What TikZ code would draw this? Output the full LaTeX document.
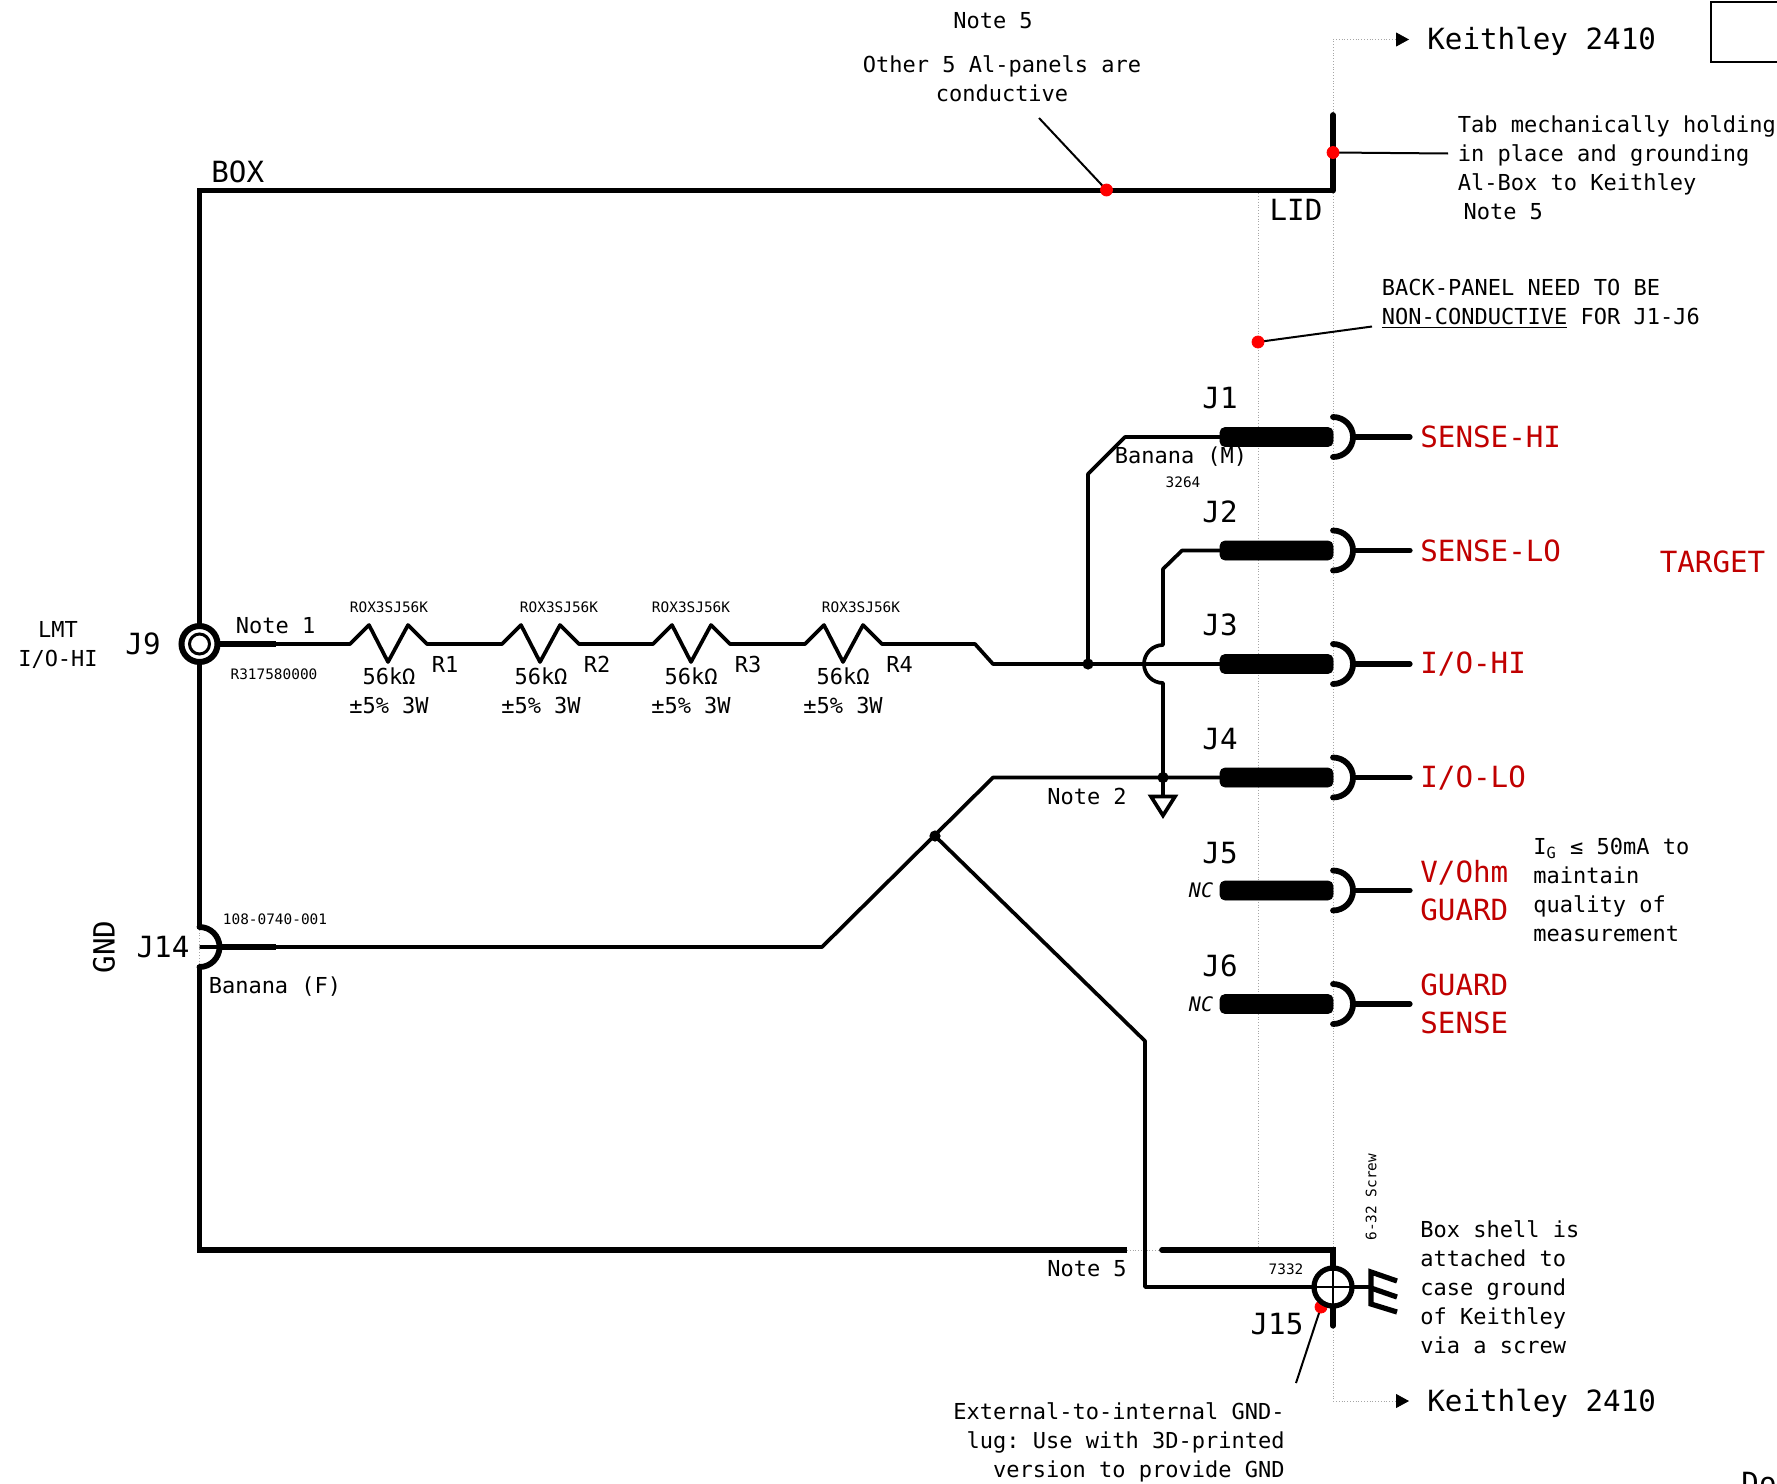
\documentclass[tikz,border=0pt]{standalone}
\usepackage{fontspec}
\setmonofont{DejaVu Sans Mono}
\usetikzlibrary{arrows.meta}

\begin{document}
\begin{tikzpicture}[x=0.5pt, y=-0.5pt,
        wire/.style={line width=1.85pt, line join=round},
        shell/.style={line width=2.9pt, line join=miter},
        lead/.style={line width=2.6pt, line cap=round},
        sock/.style={line width=2.9pt, line cap=round},
        guide/.style={gray!70, line width=0.4pt, densely dotted},
        leader/.style={line width=1pt},
        reddot/.style={red, fill=red},
        plug/.style={fill=black, rounded corners=2.5pt},
        note/.style={font=\ttfamily\fontsize{11}{14.5}\selectfont, inner sep=0pt, align=left},
        label/.style={font=\ttfamily\fontsize{14.6}{19}\selectfont, inner sep=0pt, align=left},
        tiny/.style={font=\ttfamily\fontsize{7.2}{9}\selectfont, inner sep=0pt},
        signal/.style={label, text=sigred}]
        \definecolor{sigred}{HTML}{C00000}
        \useasboundingbox (0,0) rectangle (1777,1483);
        \clip (0,0) rectangle (1777,1483);

        \coordinate (TL) at (199.5,190.5);
        \coordinate (TR) at (1333,190.5);
        \coordinate (Tab) at (1333,115);
        \coordinate (BL) at (199.5,1250);
        \coordinate (BR) at (1333,1250);
        \coordinate (GapL) at (1127,1250);
        \coordinate (GapR) at (1162,1250);
        \coordinate (J9) at (199.5,644);
        \coordinate (J14) at (199.5,947);
        \coordinate (J14t) at (199.5,927);
        \coordinate (J14b) at (199.5,967);
        \coordinate (J15) at (1333,1287);
        \coordinate (Stem) at (1333,1326);

        \coordinate (J1) at (1333,437);
        \coordinate (J2) at (1333,550.5);
        \coordinate (J3) at (1333,664);
        \coordinate (J4) at (1333,777.5);
        \coordinate (J5) at (1333,890.5);
        \coordinate (J6) at (1333,1004);

        \coordinate (N1) at (1088,664);
        \coordinate (N2) at (1163,777.5);
        \coordinate (N3) at (935,836);

        % dotted panel lines
        \coordinate (KeiT) at (1409,39.5);
        \coordinate (KeiB) at (1409,1401);
        \draw[guide, -{Triangle[length=6.5pt,width=7pt,black]}] (TR) -- (1333,39.5) -- (KeiT);
        \draw[guide, -{Triangle[length=6.5pt,width=7pt,black]}] (BR) -- (1333,1401) -- (KeiB);
        \draw[guide] (TR) -- (BR);
        \draw[guide] (1258,190.5) -- (1258,1250);
        \draw[guide] (GapL) -- (GapR);
        \draw[guide] (J14t) -- (J14b);

        % red marks
        \coordinate (DotA) at (1106.5,190);
        \coordinate (DotB) at (1333,152.5);
        \coordinate (DotC) at (1258,342);
        \coordinate (DotD) at (1321,1307);
        \coordinate (LeadA) at (1039,118);
        \coordinate (LeadB) at (1448,153.5);
        \coordinate (LeadC) at (1372,326.5);
        \coordinate (LeadD) at (1296,1383);
        \draw[leader] (DotA) -- (LeadA);
        \draw[leader] (DotB) -- (LeadB);
        \draw[leader] (DotC) -- (LeadC);
        \draw[leader] (DotD) -- (LeadD);

        % shell of the box
        \draw[shell] (J14t) -- (TL) -- (TR);
        \draw[shell, line cap=round] (TR) -- (Tab);
        \draw[shell] (J14b) -- (BL) -- (GapL);
        \draw[shell, line cap=round] (GapR) -- (BR) -- (J15);
        \draw[sock] (J14t) arc[start angle=90, end angle=-90, radius=10pt];
        \draw[reddot] (DotA) circle[radius=3pt];
        \draw[reddot] (DotB) circle[radius=3pt];
        \draw[reddot] (DotC) circle[radius=3pt];
        \draw[reddot] (DotD) circle[radius=3pt];

        % resistor string
        \draw[wire] (J9) -- (350,644) -- (369,625) -- (388,662) -- (408,625) -- (427,644)
                -- (502,644) -- (521,625) -- (540,662) -- (560,625) -- (579,644)
                -- (653,644) -- (672,625) -- (691,662) -- (711,625) -- (730,644)
                -- (805,644) -- (824,625) -- (843,662) -- (863,625) -- (882,644)
                -- (975,644) -- (993,664) -- (J3);
        \draw[lead, line cap=butt] (J9) -- (276,644);

        % J1 to J4 wires
        \draw[wire] (N1) -- (1088,474) -- (1125,437) -- (J1);
        \draw[wire] (J2) -- (1182,550.5) -- (1163,569) -- (1163,645)
                arc[start angle=90, end angle=270, radius=9.5pt] -- (N2);
        \draw[wire] (J4) -- (993,777.5) -- (822,947) -- (J14);
        \draw[lead, line cap=butt] (220,947) -- (276,947);
        \draw[wire] (N3) -- (1145,1041) -- (1145,1287) -- (J15);
        \draw[wire] (N2) -- (1163,796);
        \draw[line width=1.85pt, line join=miter] (1151,796.5) -- (1175,796.5) -- (1163,815.5) -- cycle;
        \fill (N1) circle[radius=2.8pt];
        \fill (N2) circle[radius=2.8pt];
        \fill (N3) circle[radius=2.8pt];

        % J1 to J6 jacks
        \draw[plug] (1220,427.5) rectangle (1333,446.5);
        \draw[plug] (1220,541) rectangle (1333,560);
        \draw[plug] (1220,654.5) rectangle (1333,673.5);
        \draw[plug] (1220,768) rectangle (1333,787);
        \draw[plug] (1220,881) rectangle (1333,900);
        \draw[plug] (1220,994.5) rectangle (1333,1013.5);
        \draw[sock] (1333,417) arc[start angle=90, end angle=-90, radius=10pt];
        \draw[sock] (1333,530.5) arc[start angle=90, end angle=-90, radius=10pt];
        \draw[sock] (1333,644) arc[start angle=90, end angle=-90, radius=10pt];
        \draw[sock] (1333,757.5) arc[start angle=90, end angle=-90, radius=10pt];
        \draw[sock] (1333,870.5) arc[start angle=90, end angle=-90, radius=10pt];
        \draw[sock] (1333,984) arc[start angle=90, end angle=-90, radius=10pt];
        \draw[lead] (1354,437) -- (1410,437);
        \draw[lead] (1354,550.5) -- (1410,550.5);
        \draw[lead] (1354,664) -- (1410,664);
        \draw[lead] (1354,777.5) -- (1410,777.5);
        \draw[lead] (1354,890.5) -- (1410,890.5);
        \draw[lead] (1354,1004) -- (1410,1004);

        % J9 and J15
        \draw[line width=3pt, fill=white] (J9) circle[radius=9pt];
        \draw[line width=1.5pt] (J9) circle[radius=5pt];
        \draw[line width=2.6pt, fill=white] (J15) circle[radius=9.5pt];
        \draw[leader, line width=0.8pt] (1333,1268) -- (1333,1306);
        \draw[leader, line width=0.8pt] (1314,1287) -- (1352,1287);
        \draw[lead] (1333,1308) -- (Stem);
        \draw[wire] (1354,1287) -- (1371,1287);
        \draw[lead, line cap=butt, line join=miter] (1397,1281) -- (1371,1272) -- (1371,1304) -- (1397,1312);
        \draw[lead, line cap=butt] (1371,1288) -- (1397,1297);

        \draw[line width=1pt] (1777,2) -- (1711,2) -- (1711,62) -- (1777,62);

        % texts
        \node[note] (n5a) at (993,21) {Note 5};
        \node[note, align=center] (al) at (1002,79) {Other 5 Al-panels are\\conductive};
        \node[label, anchor=west] (box) at (211,172) {BOX};
        \node[label] (lid) at (1296,210) {LID};
        \node[label, anchor=west] (kt) at (1427,41.5) {Keithley 2410};
        \node[label, anchor=west] (kb) at (1427,1403.5) {Keithley 2410};
        \node[note, anchor=west] (tabt) at (1457.5,168) {Tab mechanically holding\\in place and grounding\\Al-Box to Keithley\\\hspace{2.8pt}Note 5};
        \node[note, anchor=west] (back) at (1381.5,303.5) {BACK-PANEL NEED TO BE\\\underline{NON-CONDUCTIVE} FOR J1-J6};

        \node[label] (j1) at (1220,398) {J1};
        \node[label] (j2) at (1220,512) {J2};
        \node[label] (j3) at (1220,625) {J3};
        \node[label] (j4) at (1220,739) {J4};
        \node[label] (j5) at (1220,853) {J5};
        \node[label] (j6) at (1220,966) {J6};
        \node[note] (bm) at (1181,457) {Banana (M)};
        \node[tiny] (p3264) at (1183,482) {3264};
        \node[note, font=\ttfamily\itshape\fontsize{10}{12}\selectfont] (nc5) at (1201,890) {NC};
        \node[note, font=\ttfamily\itshape\fontsize{10}{12}\selectfont] (nc6) at (1201,1004) {NC};

        \node[signal, anchor=west] (s1) at (1420,437) {SENSE-HI};
        \node[signal, anchor=west] (s2) at (1420,551) {SENSE-LO};
        \node[signal, anchor=west] (s3) at (1420,664) {I/O-HI};
        \node[signal, anchor=west] (s4) at (1420,778) {I/O-LO};
        \node[signal, anchor=west] (s5) at (1420,891) {V/Ohm\\GUARD};
        \node[signal, anchor=west] (s6) at (1420,1004) {GUARD\\SENSE};
        \node[signal] (tgt) at (1712.5,562) {TARGET};
        \node[note, anchor=west] (ig) at (1533,890) {I\textsubscript{G} ≤ 50mA to\\maintain\\quality of\\measurement};

        \node[note, align=center] (lmt) at (58,645) {LMT\\I/O-HI};
        \node[label] (j9) at (143,644) {J9};
        \node[note, anchor=west] (n1) at (235.5,626) {Note 1};
        \node[tiny] (r3) at (274,674) {R317580000};
        \node[label] (j14) at (163,947) {J14};
        \node[label, rotate=90] (gnd) at (104,947) {GND};
        \node[tiny] (p108) at (275,919) {108-0740-001};
        \node[note] (bf) at (275,986.5) {Banana (F)};

        \node[tiny] (rox1) at (389,607) {ROX3SJ56K};
        \node[tiny] (rox2) at (559,607) {ROX3SJ56K};
        \node[tiny] (rox3) at (691,607) {ROX3SJ56K};
        \node[tiny] (rox4) at (861,607) {ROX3SJ56K};
        \node[note, align=center] (v1) at (389,691) {56kΩ\\±5\% 3W};
        \node[note, align=center] (v2) at (541,691) {56kΩ\\±5\% 3W};
        \node[note, align=center] (v3) at (691,691) {56kΩ\\±5\% 3W};
        \node[note, align=center] (v4) at (843,691) {56kΩ\\±5\% 3W};
        \node[note] (r1) at (445,664) {R1};
        \node[note] (r2) at (597,664) {R2};
        \node[note] (r3n) at (748,664) {R3};
        \node[note] (r4) at (899.5,664) {R4};

        \node[note] (n2) at (1087,796) {Note 2};
        \node[note] (n5b) at (1087,1269) {Note 5};
        \node[tiny] (p7332) at (1286,1269) {7332};
        \node[label] (j15) at (1277,1324) {J15};
        \node[tiny, rotate=90] (scr) at (1371,1197) {6-32 Screw};
        \node[note, anchor=west] (sh) at (1420,1287) {Box shell is\\attached to\\case ground\\of Keithley\\via a screw};
        \node[note, align=right, anchor=east] (ext) at (1285,1442) {External-to-internal GND-\\lug: Use with 3D-printed\\version to provide GND};
        \node[label, anchor=west] (doc) at (1741,1483) {Do};
    \end{tikzpicture}
\end{document}
